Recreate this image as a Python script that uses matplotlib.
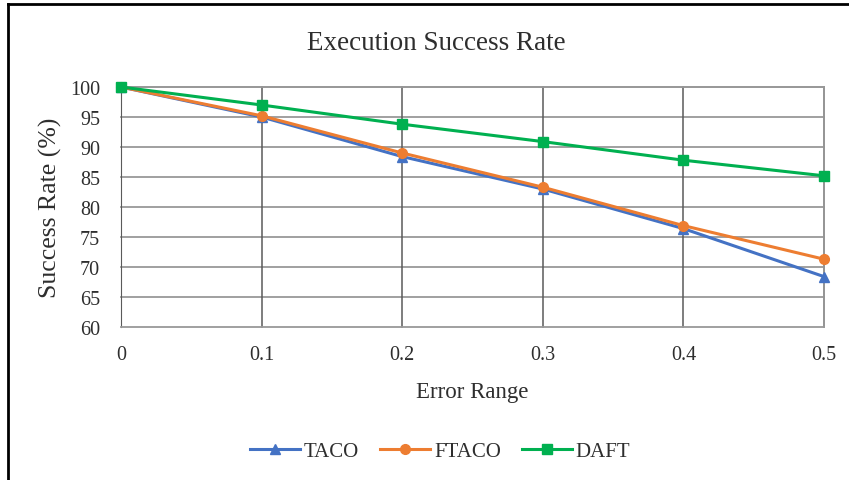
import numpy as np
import matplotlib.pyplot as plt
from matplotlib.lines import Line2D

error_range = [0, 0.1, 0.2, 0.3, 0.4, 0.5]
taco = [100, 95.0, 88.4, 83.0, 76.4, 68.4]
ftaco = [100, 95.2, 89.0, 83.3, 76.9, 71.3]
daft = [100, 97.0, 93.8, 90.9, 87.8, 85.2]

plt.rcParams['font.family'] = ['Liberation Serif', 'DejaVu Serif']

W, H = 849, 481
txt = '#2e2e2e'
fig = plt.figure(figsize=(W / 100, H / 100), dpi=100)
ax = fig.add_axes([121 / W, 1 - 328 / H, (824 - 121) / W, (328 - 88) / H])

ax.plot(error_range, taco, color='#4472C4', lw=2.2, marker='^', ms=7, label='TACO', zorder=3)
ax.plot(error_range, ftaco, color='#ED7D31', lw=2.2, marker='o', ms=7, label='FTACO', zorder=4)
ax.plot(error_range, daft, color='#00B050', lw=2.2, marker='s', ms=7, label='DAFT', zorder=5)

ax.set_xlim(0, 0.5)
ax.set_ylim(60, 100)
ax.set_xticks(error_range)
ax.set_xticklabels(['0', '0.1', '0.2', '0.3', '0.4', '0.5'])
ax.set_yticks(np.arange(60, 101, 5))
for y in np.arange(65, 101, 5):
    ax.axhline(y, color='#999999', lw=1.3, zorder=1)
for x in error_range[1:]:
    ax.axvline(x, color='#5a5a5a', lw=1.1, zorder=1)
for s in ['top', 'right', 'bottom']:
    ax.spines[s].set_color('#999999')
    ax.spines[s].set_linewidth(1.3)
ax.spines['left'].set_color('#5a5a5a')
ax.tick_params(length=0, labelsize=14.5, colors=txt)
ax.tick_params(axis='y', pad=15)
ax.tick_params(axis='x', pad=13)
for l in ax.lines:
    l.set_clip_on(False)

ax.set_xlabel('Error Range', fontsize=16.5, color=txt, labelpad=12)
ax.set_ylabel('Success Rate (%)', fontsize=18.5, color=txt, labelpad=6)
fig.text(436 / W, 1 - 43 / H, 'Execution Success Rate', ha='center', va='center',
         fontsize=19.5, color=txt)

handles = [Line2D([], [], color=l.get_color(), lw=2.2, marker=l.get_marker(), ms=7) for l in ax.lines]
fig.legend(handles, ['TACO', 'FTACO', 'DAFT'], loc='center', bbox_to_anchor=(440 / W, 1 - 452 / H),
           ncol=3, frameon=False, fontsize=15, handlelength=2.4, columnspacing=1.0,
           handletextpad=0.2, labelcolor=txt)

# outer frame lines (top and left)
fig.add_artist(Line2D([8 / W, 1], [1 - 5 / H, 1 - 5 / H], color='black', lw=2, transform=fig.transFigure))
fig.add_artist(Line2D([8 / W, 8 / W], [0, 1 - 5 / H], color='black', lw=2, transform=fig.transFigure))

fig.savefig('out.png', dpi=100)
